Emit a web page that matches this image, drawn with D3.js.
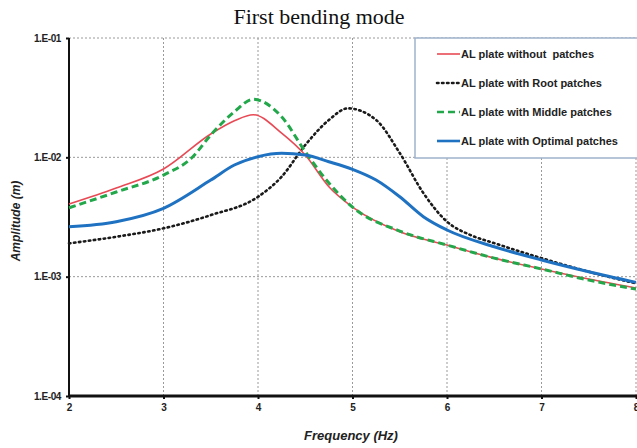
<!DOCTYPE html>
<html><head><meta charset="utf-8">
<script src="https://cdn.jsdelivr.net/npm/d3@7"></script>
<style>
body{margin:0;background:#fff;}
svg{display:block;}
</style></head>
<body>
<svg id="chart" width="637" height="448"></svg>
<script>
// ---- data ----
const xTicks = [2,3,4,5,6,7,8];
const yTicks = [1e-4,1e-3,1e-2,1e-1];
const yTickLabels = ["1.E-04","1.E-03","1.E-02","1.E-01"];
const seriesNames = ["AL plate without  patches","AL plate with Root patches","AL plate with Middle patches","AL plate with Optimal patches"];

const freqRed = [2,2.5,3,3.5,3.75,3.95,4.25,4.5,4.75,5,5.5,6,6.5,7,7.5,8];
const ampRed  = [0.00406,0.00553,0.00798,0.01568,0.02026,0.02276,0.01598,0.01045,0.00567,0.00383,0.00238,0.00184,0.00143,0.00116,0.000955,0.000802];

const freqRoot = [2,2.5,3,3.5,4,4.25,4.5,4.75,4.95,5.25,5.5,5.75,6,6.25,6.5,7,7.5,8];
const ampRoot  = [0.00190,0.00216,0.00254,0.00328,0.00467,0.00688,0.01268,0.02055,0.02574,0.02055,0.01086,0.00502,0.00289,0.00223,0.00191,0.00143,0.00110,0.000879];

const freqMid = [2,2.5,3,3.3,3.5,3.75,3.95,4.25,4.5,4.75,5,5.5,6,6.5,7,7.5,8];
const ampMid  = [0.00378,0.00512,0.00710,0.00992,0.01538,0.02411,0.03063,0.02189,0.01114,0.00609,0.00383,0.00241,0.00184,0.00143,0.00116,0.000936,0.000787];

const freqOpt = [2,2.5,3,3.5,3.75,4,4.25,4.5,4.75,5,5.25,5.5,5.75,6,6.5,7,7.5,8];
const ampOpt  = [0.00262,0.00289,0.00374,0.00645,0.00862,0.01012,0.01080,0.01045,0.00919,0.00793,0.00645,0.00467,0.00318,0.00246,0.00178,0.00138,0.00110,0.000896];

// ---- drawing ----
const svg = d3.select("#chart");
const L = 69, R = 636, T = 38, B = 396;
const x = d3.scaleLinear().domain([2,8]).range([L,R]);
const y = d3.scaleLog().domain([1e-4,1e-1]).range([B,T]);

// title
svg.append("text").attr("x",319).attr("y",24).attr("text-anchor","middle")
  .style("font-family","'Liberation Serif','Times New Roman',serif").style("font-size","22px")
  .attr("fill","#111")
  .text("First bending mode");

// grid
const grid = svg.append("g").attr("stroke","#9a9a9a").attr("stroke-width",1).attr("stroke-dasharray","2,2");
xTicks.slice(1).forEach(v=>grid.append("line").attr("x1",x(v)).attr("x2",x(v)).attr("y1",T).attr("y2",B));
yTicks.slice(1).forEach(v=>grid.append("line").attr("x1",L).attr("x2",R).attr("y1",y(v)).attr("y2",y(v)));

// axes
const fontAx = "'Liberation Sans',Arial,sans-serif";
const yAxis = d3.axisLeft(y).tickValues(yTicks).tickSize(3).tickPadding(5)
  .tickFormat((d,i)=>yTickLabels[i]);
const gy = svg.append("g").attr("transform",`translate(${L},0)`).call(yAxis);
gy.select(".domain").attr("stroke","#111").attr("stroke-width",2).attr("d",`M0,${T}V${B}`);
gy.selectAll(".tick line").attr("stroke","#111").attr("stroke-width",2);
gy.selectAll(".tick text").style("font-family",fontAx).style("font-size","10px").style("font-weight","bold").attr("fill","#222").attr("letter-spacing","-0.4");

const xAxis = d3.axisBottom(x).tickValues(xTicks).tickSize(3).tickPadding(5).tickFormat(d3.format("d"));
const gx = svg.append("g").attr("transform",`translate(0,${B})`).call(xAxis);
gx.select(".domain").attr("stroke","#111").attr("stroke-width",3).attr("d",`M${L},0H637`);
gx.selectAll(".tick line").attr("stroke","#111").attr("stroke-width",2);
gx.selectAll(".tick text").style("font-family",fontAx).style("font-size","10px").style("font-weight","bold").attr("fill","#222");

// axis titles
svg.append("text").attr("x",351).attr("y",440).attr("text-anchor","middle")
  .style("font-family",fontAx).style("font-size","13px").style("font-weight","bold").style("font-style","italic").attr("fill","#222")
  .text("Frequency (Hz)");
svg.append("text").attr("transform","translate(20,221) rotate(-90)").attr("text-anchor","middle")
  .style("font-family",fontAx).style("font-size","12px").style("font-weight","bold").style("font-style","italic").attr("fill","#222")
  .text("Amplitude (m)");

// series
const styles = [
  {f:freqRed, a:ampRed, color:"#e84a55", w:1.6, dash:null},
  {f:freqRoot, a:ampRoot, color:"#1a1a1a", w:2.6, dash:"1.5,3.5"},
  {f:freqMid, a:ampMid, color:"#22a84a", w:3, dash:"7,4"},
  {f:freqOpt, a:ampOpt, color:"#1f72c2", w:3, dash:null}
];
const line = d3.line().x(d=>x(d[0])).y(d=>y(d[1])).curve(d3.curveMonotoneX);
const order = [1,0,2,3];
order.forEach(i=>{
  const s = styles[i];
  const pts = s.f.map((v,k)=>[v,s.a[k]]);
  svg.append("path").datum(pts).attr("d",line).attr("fill","none")
    .attr("stroke",s.color).attr("stroke-width",s.w)
    .attr("stroke-dasharray",s.dash).attr("stroke-linecap",i===1?"round":"butt");
});

// legend
const lg = svg.append("g");
lg.append("rect").attr("x",415).attr("y",38).attr("width",225).attr("height",120)
  .attr("fill","#fff").attr("stroke","#9fb2cb").attr("stroke-width",1.5);
const rowsY = [54,83,112,141];
seriesNames.forEach((n,i)=>{
  const s = styles[i];
  lg.append("line").attr("x1",437).attr("x2",460).attr("y1",rowsY[i]).attr("y2",rowsY[i])
    .attr("stroke",s.color).attr("stroke-width",Math.min(s.w,2.6)).attr("stroke-dasharray",s.dash)
    .attr("stroke-linecap",i===1?"round":"butt");
  lg.append("text").attr("x",461).attr("y",rowsY[i]+4)
    .style("font-family",fontAx).style("font-size","11px").style("font-weight","bold").style("white-space","pre").attr("fill","#222")
    .text(n);
});
</script>
</body></html>
